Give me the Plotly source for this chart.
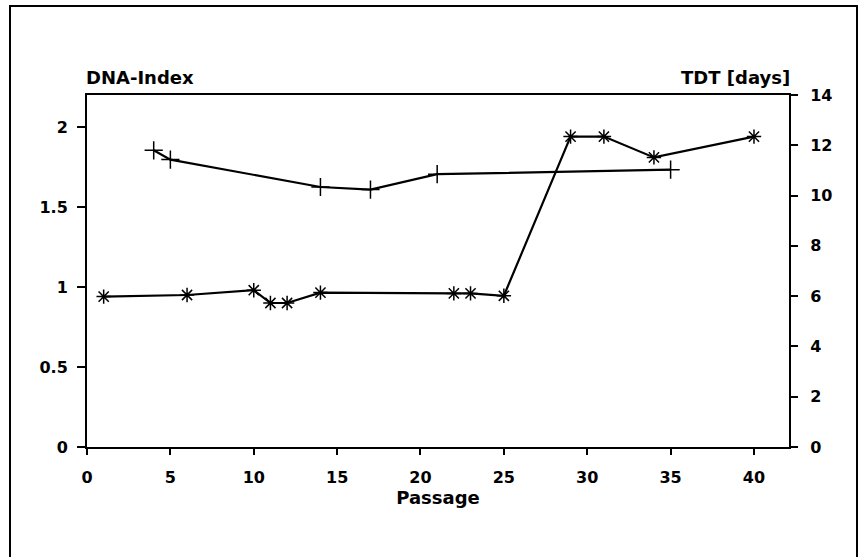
import plotly.graph_objects as go

# DNA-Index series (asterisk markers, left axis)
dna_passage = [1, 6, 10, 11, 12, 14, 22, 23, 25, 29, 31, 34, 40]
dna_index = [0.94, 0.95, 0.98, 0.90, 0.90, 0.965, 0.96, 0.96, 0.945, 1.94, 1.94, 1.81, 1.94]

# TDT series (plus markers, right axis, days)
tdt_passage = [4, 5, 14, 17, 21, 35]
tdt_days = [11.8, 11.43, 10.34, 10.24, 10.85, 11.03]

x_ticks = [0, 5, 10, 15, 20, 25, 30, 35, 40]
y_left_ticks = [0, 0.5, 1, 1.5, 2]
y_right_ticks = [0, 2, 4, 6, 8, 10, 12, 14]

FONT = "DejaVu Sans"
TICKFONT = dict(size=16, family=FONT, weight="bold", color="black")
TITLEFONT = dict(size=18, family=FONT, weight="bold", color="black")

fig = go.Figure()
fig.add_trace(go.Scatter(
    x=tdt_passage, y=tdt_days, yaxis="y2", mode="lines+markers",
    line=dict(color="black", width=2.2),
    marker=dict(symbol="cross-thin-open", size=13, line=dict(color="black", width=1.5)),
    showlegend=False, name="TDT"))
fig.add_trace(go.Scatter(
    x=dna_passage, y=dna_index, mode="lines+markers",
    line=dict(color="black", width=2.2),
    marker=dict(symbol="asterisk-open", size=12, line=dict(color="black", width=1.5)),
    showlegend=False, name="DNA-Index"))

W, H = 862, 557
L, R, T, B = 87, 73, 95, 110
pw, ph = W - L - R, H - T - B

def px(x):
    return (x - L) / pw

def py(y):
    return (H - B - y) / ph

fig.update_layout(
    width=W, height=H,
    margin=dict(l=L, r=R, t=T, b=B),
    paper_bgcolor="white", plot_bgcolor="white",
    font=dict(family=FONT, size=16, color="black"),
    xaxis=dict(range=[0, 42.1], tickvals=x_ticks, ticktext=[str(v) for v in x_ticks],
               showgrid=False, zeroline=False, showline=True, linecolor="black",
               linewidth=2, mirror=True, ticks="outside", ticklen=6, tickwidth=1.5,
               tickcolor="black", tickfont=TICKFONT, ticklabelstandoff=9,
               title=dict(text="Passage", font=TITLEFONT, standoff=2)),
    yaxis=dict(range=[0, 2.2], tickvals=y_left_ticks, ticktext=["0", "0.5", "1", "1.5", "2"],
               showgrid=False, zeroline=False, showline=True, linecolor="black",
               linewidth=2, ticks="outside", ticklen=8, tickwidth=1.5, tickcolor="black",
               tickfont=TICKFONT, ticklabelstandoff=6),
    yaxis2=dict(range=[0, 14], tickvals=y_right_ticks, overlaying="y", side="right",
                showgrid=False, zeroline=False, showline=True, linecolor="black",
                linewidth=2, ticks="outside", ticklen=7, tickwidth=1.5, tickcolor="black",
                tickfont=TICKFONT, ticklabelstandoff=9),
    annotations=[
        dict(text="DNA-Index", xref="paper", yref="paper", x=px(84), y=py(77),
             xanchor="left", yanchor="middle", showarrow=False, font=TITLEFONT),
        dict(text="TDT [days]", xref="paper", yref="paper", x=px(792), y=py(77),
             xanchor="right", yanchor="middle", showarrow=False, font=TITLEFONT),
    ],
    shapes=[
        dict(type="rect", xref="paper", yref="paper",
             x0=px(10), x1=px(857), y0=py(600), y1=py(6),
             line=dict(color="black", width=2), fillcolor="rgba(0,0,0,0)", layer="below"),
    ],
)

fig.write_html("out.html", config={"displayModeBar": False},
               post_script="document.body.style.margin='0px';document.body.style.padding='0px';")
